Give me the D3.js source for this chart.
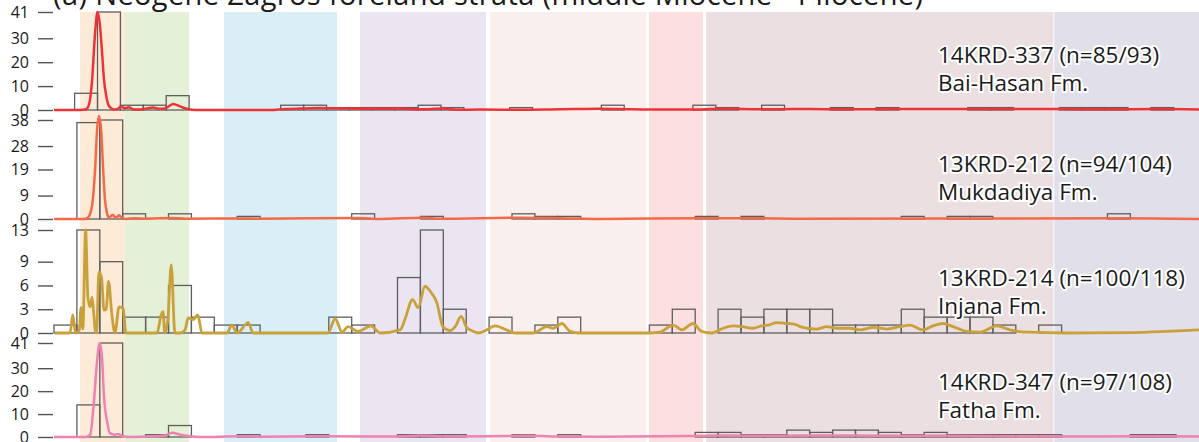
<!DOCTYPE html>
<html>
<head>
<meta charset="utf-8">
<script src="https://cdn.jsdelivr.net/npm/d3@7"></script>
<style>
  html, body { margin: 0; padding: 0; background: #fff; }
  svg { display: block; font-family: "Open Sans", sans-serif; }
</style>
</head>
<body>
<svg id="chart" width="1199" height="442"></svg>
<script>
// ─── Data ────────────────────────────────────────────────────
const BIN = 50; // Ma per histogram bin
const AGE_MAX = 2500;

// background age bands (Ma)
const bandStarts = [57, 155, 371, 668, 952, 1299, 1424, 2184];
const bandEnds   = [155, 295, 618, 943, 1293, 1417, 2182, 2500];
const bandColors = ["#fdebd8", "#e4f0d7", "#d9eef6", "#ebe4f1", "#f9f0ed", "#fcdfdf", "#ecdfe1", "#e1dfe9"];

const titleText = "(a) Neogene Zagros foreland strata (middle Miocene - Pliocene)";

const sampleNames = ["14KRD-337 (n=85/93)", "13KRD-212 (n=94/104)", "13KRD-214 (n=100/118)", "14KRD-347 (n=97/108)"];
const formations  = ["Bai-Hasan Fm.", "Mukdadiya Fm.", "Injana Fm.", "Fatha Fm."];
const yMaxes  = [41, 38, 13, 41];
const yTicks  = [[0, 10, 20, 30, 41], [0, 9, 19, 28, 38], [0, 3, 6, 9, 13], [0, 10, 20, 30, 41]];
const binOffsets = [-5, 0, 0, 0];
const kdeColors  = ["#ec3338", "#f26a48", "#c9a13a", "#ee82b3"];

// histogram counts, one per 50 Ma bin starting at 0 Ma
const counts337 = [0,7,41,2,2,6,0,0,0,0, 2,2,1,1,1,1,2,1,0,0, 1,0,0,0,2,0,0,0,2,1, 0,2,0,0,1,0,1,0,0,0, 1,1,0,0,1,1,1,0,1,0];
const counts212 = [0,37,38,2,0,2,0,0,1,0, 0,0,0,2,0,0,1,0,0,0, 2,1,1,0,0,0,0,0,1,0, 1,0,0,0,0,0,0,1,0,1, 1,0,0,0,0,0,2,0,0,0];
const counts214 = [1,13,9,2,2,6,2,1,1,0, 0,0,2,1,0,7,13,3,0,2, 0,1,2,0,0,0,1,3,0,3, 2,3,3,3,1,1,1,3,2,2, 2,1,0,1,0,0,0,0,0,0];
const counts347 = [0,14,41,0,1,5,0,0,1,0, 0,1,0,0,0,1,1,1,0,0, 1,0,1,0,0,0,0,0,2,2, 1,1,3,2,3,3,2,1,2,1, 1,1,1,1,0,0,0,1,1,0];

// KDE curves [age Ma, value in axis units]
const kde337 = [[0,0],[57,0],[70,0.3],[76,2],[83,12],[90,33],[95,41],[100,36],[105,24],[109,13],[114,6],[118,2.5],
  [124,0.8],[131,0.2],[140,0.6],[146,1.4],[155,0.8],[164,1.1],[172,0.3],[181,0.2],[199,0.5],[216,1],[231,0.5],
  [242,0.6],[260,2.5],[275,1.5],[288,0.6],[301,0.1],[319,0],[472,0],[504,0.4],[537,0.6],[581,0.8],[635,0.6],
  [690,0.5],[755,0.6],[799,0.3],[849,0.6],[886,0.1],[930,0.2],[1017,0.1],[1105,0.3],[1192,0.5],[1236,0.4],
  [1301,0.2],[1389,0.2],[1454,0.5],[1541,0.3],[1629,0.4],[1738,0.3],[1847,0.4],[2022,0.4],[2196,0.4],
  [2284,0.3],[2415,0.4],[2500,0.2]];
const kde212 = [[0,0],[66,0],[74,0.5],[83,5],[90,20],[94,34],[98,39.5],[103,34],[107,20],[111,8],[116,2],[120,0.5],
  [125,1.2],[129,1.6],[133,0.6],[138,0.8],[142,1.4],[149,0.3],[157,0],[177,0.3],[199,0.1],[258,0.4],[286,0.1],
  [406,0.2],[450,0.1],[668,0.4],[712,0],[806,0.5],[843,0.1],[1018,0.5],[1105,0.3],[1192,0],[1411,0.3],
  [1520,0.3],[1629,0.1],[2328,0.3],[2500,0]];
const kde214 = [[2,0],[35,0],[41,2.3],[47,0],[55,0.3],[59,3.2],[63,0.5],[69,13],[74,4.5],[79,3.3],[83,4.5],[86,3],
  [90,0.4],[93,0],[98,7.7],[104,6.9],[109,2.9],[114,3],[119,6.5],[126,2.5],[133,0],[142,3.3],[151,3.1],[157,0],
  [225,0],[234,2.3],[238,2.7],[242,0],[249,2],[256,8.6],[264,0],[275,0],[286,0.4],[293,1.9],[304,1.7],[314,2.3],
  [323,0],[378,0],[388,1],[400,0],[424,1.3],[435,0],[598,0],[614,1.8],[629,0.1],[642,0.8],[664,0.2],[692,0.9],
  [712,0],[756,0.4],[766,1.7],[783,4.2],[795,3.2],[810,5.9],[821,5.3],[836,3.8],[849,0.8],[865,0.3],[876,0.8],
  [889,2.1],[901,0.7],[912,0.3],[926,0],[945,0.4],[963,0.9],[988,0.4],[1007,0],[1046,0],[1076,0.8],[1090,0.6],
  [1109,1.2],[1127,0.2],[1149,0],[1301,0],[1323,0.1],[1352,1],[1371,0.4],[1395,1.2],[1414,0.2],[1436,0],
  [1461,0.6],[1483,0.9],[1502,0.8],[1526,0.6],[1545,0.9],[1559,1],[1578,1.3],[1600,1.2],[1618,1.1],[1629,0.8],
  [1644,0.6],[1665,0.5],[1687,0.8],[1709,0.6],[1738,0.6],[1760,0.4],[1789,0.7],[1818,0.5],[1847,0.8],[1869,1],
  [1897,0.4],[1919,0.9],[1941,1.2],[1963,0.8],[1993,0.2],[2022,0.1],[2058,0.9],[2087,0.4],[2124,0.1],
  [2211,0],[2356,0.05],[2430,0.2],[2500,0.4]];
const kde347 = [[0,0],[68,0],[79,1],[87,15],[94,33],[100,41],[105,34],[109,18],[116,6.6],[122,1.7],[133,1],
  [140,1.3],[149,0.4],[166,0],[210,0.2],[242,0.7],[258,1.9],[275,1],[297,0.3],[319,0],[406,0.3],[450,0.1],
  [581,0.3],[756,0.2],[799,0.6],[865,0.2],[1039,0.5],[1105,0.2],[1192,0.1],[1389,0.4],[1454,0.6],[1585,0.5],
  [1694,0.7],[1804,0.5],[1935,0.5],[2066,0.3],[2197,0.2],[2371,0.3],[2500,0.2]];

const allCounts = [counts337, counts212, counts214, counts347];
const allKde = [kde337, kde212, kde214, kde347];

// ─── Layout ──────────────────────────────────────────────────
const W = 1199, H = 442;
const panelTops  = [12, 120, 230, 343];
const panelBases = [110, 219, 333, 437];

const svg = d3.select("#chart");
const x = d3.scaleLinear().domain([0, AGE_MAX]).range([54, W]);

// ─── Background bands ────────────────────────────────────────
svg.append("g").selectAll("rect")
  .data(bandStarts)
  .join("rect")
  .attr("x", (d) => x(d))
  .attr("width", (d, i) => x(bandEnds[i]) - x(d))
  .attr("y", panelTops[0])
  .attr("height", H - panelTops[0])
  .attr("fill", (d, i) => bandColors[i]);

// ─── Title (top is cut off by the frame, like the source) ────
svg.append("text")
  .attr("x", 53).attr("y", 5)
  .attr("font-size", 29)
  .attr("textLength", 870)
  .attr("lengthAdjust", "spacing")
  .attr("fill", "#1a1a1a")
  .text(titleText);

// ─── Panels ──────────────────────────────────────────────────
allCounts.forEach((counts, p) => {
  const y = d3.scaleLinear().domain([0, yMaxes[p]]).range([panelBases[p], panelTops[p]]);
  const g = svg.append("g");
  const bins = counts.map((c, k) => ({ k, c })).filter((d) => d.c > 0);

  g.append("g").selectAll("rect")
    .data(bins)
    .join("rect")
    .attr("x", (d) => x(d.k * BIN + binOffsets[p]))
    .attr("width", (d) => x((d.k + 1) * BIN) - x(d.k * BIN))
    .attr("y", (d) => y(d.c))
    .attr("height", (d) => y(0) - y(d.c))
    .attr("fill", "none")
    .attr("stroke", "#5e5e5e")
    .attr("stroke-width", 1.3);

  const line = d3.line()
    .x((d) => x(d[0]))
    .y((d) => y(d[1]))
    .curve(d3.curveMonotoneX);

  g.append("path")
    .datum(allKde[p])
    .attr("d", line)
    .attr("fill", "none")
    .attr("stroke", kdeColors[p])
    .attr("stroke-width", p === 2 ? 2.8 : 2.5)
    .attr("stroke-linejoin", "round");

  const axis = g.append("g")
    .attr("transform", "translate(53,0)")
    .call(d3.axisLeft(y).tickValues(yTicks[p]).tickSize(15).tickPadding(9));
  axis.select(".domain").remove();
  axis.selectAll("line").attr("stroke", "#555").attr("stroke-width", 1.4);
  axis.selectAll("text")
    .attr("font-size", 16)
    .attr("font-family", "\"Open Sans\", sans-serif")
    .attr("fill", "#1a1a1a");

  const label = g.append("g")
    .attr("font-size", 22.5)
    .attr("fill", "#1a1a1a")
    .attr("stroke", "#fff")
    .attr("stroke-width", 4)
    .attr("stroke-linejoin", "round")
    .attr("paint-order", "stroke");
  label.append("text").attr("x", 938).attr("y", panelBases[p] - 47).text(sampleNames[p]);
  label.append("text").attr("x", 938).attr("y", panelBases[p] - 19).text(formations[p]);
});
</script>
</body>
</html>
